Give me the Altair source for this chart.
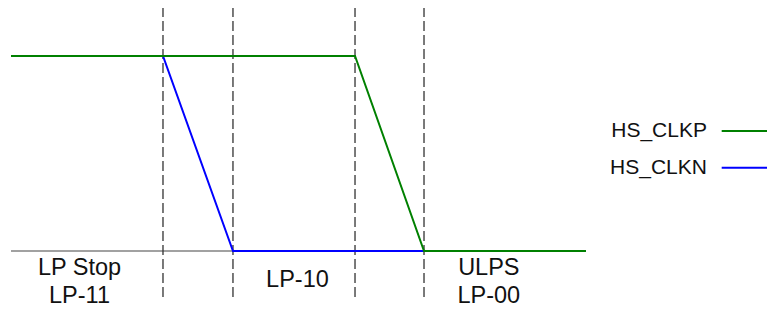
import altair as alt
import pandas as pd

# Time axis in arbitrary units (0..100 spans the plot width)
clkp_t = [0.395, 45.72, 54.81, 76.15]
clkp_v = [1, 1, 0, 0]
clkn_t = [0.395, 20.42, 29.64, 76.15]
clkn_v = [1, 1, 0, 0]
base_t = [0.395, 76.15]
boundaries = [20.42, 29.64, 45.72, 54.81]

state_lines = ["LP Stop", "LP-11", "LP-10", "ULPS", "LP-00"]
state_x = [9.42, 9.42, 38.14, 63.35, 63.35]
state_y = [-0.125, -0.268, -0.183, -0.125, -0.268]

legend_names = ["HS_CLKP", "HS_CLKN"]
legend_colors = ["#008000", "#0000ff"]
legend_text_y = [0.586, 0.395]
legend_line_y = [0.615, 0.427]
legend_text_x = 92.09
legend_line_x = [94.03, 101.05]

W, H = 759, 293
xs = alt.Scale(domain=[0, 100], nice=False, zero=False)
ys = alt.Scale(domain=[-0.2564, 1.246], nice=False, zero=False)
X = lambda f: alt.X(f, type="quantitative", scale=xs, axis=None)
Y = lambda f: alt.Y(f, type="quantitative", scale=ys, axis=None)

base_df = pd.DataFrame({"t": base_t, "v": [0, 0]})
clkp_df = pd.DataFrame({"t": clkp_t, "v": clkp_v, "o": range(4)})
clkn_df = pd.DataFrame({"t": clkn_t, "v": clkn_v, "o": range(4)})
bnd_df = pd.DataFrame({"t": boundaries, "y1": [1.251] * 4, "y2": [-0.251] * 4})
lbl_df = pd.DataFrame({"text": state_lines, "t": state_x, "v": state_y})
leg_df = pd.DataFrame({
    "name": legend_names, "color": legend_colors,
    "ty": legend_text_y, "ly": legend_line_y,
    "tx": [legend_text_x] * 2,
    "x1": [legend_line_x[0]] * 2, "x2": [legend_line_x[1]] * 2,
})

baseline = alt.Chart(base_df).mark_line(color="#444444", strokeWidth=1.2).encode(
    x=X("t"), y=Y("v"))
dashes = alt.Chart(bnd_df).mark_rule(color="#333333", strokeWidth=1.3, strokeDash=[10, 4]).encode(
    x=X("t"), y=Y("y1"), y2="y2")
clkn = alt.Chart(clkn_df).mark_line(color="#0000ff", strokeWidth=2).encode(
    x=X("t"), y=Y("v"), order="o")
clkp = alt.Chart(clkp_df).mark_line(color="#008000", strokeWidth=2).encode(
    x=X("t"), y=Y("v"), order="o")
labels = alt.Chart(lbl_df).mark_text(
    font="Liberation Sans", fontSize=23.5, color="#111111", baseline="alphabetic", align="center"
).encode(x=X("t"), y=Y("v"), text="text")
leg_text = alt.Chart(leg_df).mark_text(
    font="Liberation Sans", fontSize=21, color="#111111", baseline="alphabetic", align="right"
).encode(x=X("tx"), y=Y("ty"), text="name")
leg_line = alt.Chart(leg_df).mark_rule(strokeWidth=2).encode(
    x=X("x1"), x2="x2", y=Y("ly"),
    color=alt.Color("color:N", scale=None))

chart = alt.layer(baseline, dashes, clkn, clkp, labels, leg_text, leg_line).properties(
    width=W, height=H,
    padding={"left": 0, "top": 0, "right": 0, "bottom": 8},
    autosize=alt.AutoSizeParams(type="none")
).configure_view(stroke=None)

chart.save("out.html", embed_options={"renderer": "svg", "actions": False})
